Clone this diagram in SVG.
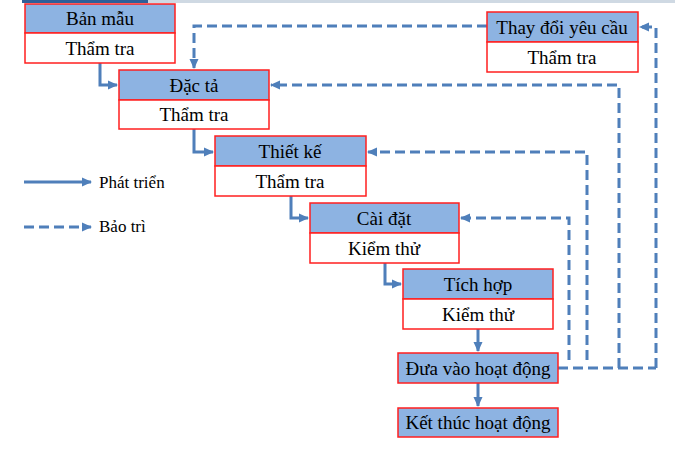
<svg xmlns="http://www.w3.org/2000/svg" width="675" height="461" viewBox="0 0 675 461">
<style>
.hd{fill:#8DB3E2;stroke:#FF1F1F;stroke-width:1.5}
.bd{fill:#FFFFFF;stroke:#FF1F1F;stroke-width:1.5}
.t{font-family:"Liberation Serif","Times New Roman",serif;font-size:19px;fill:#000;text-anchor:middle}
.lg{font-family:"Liberation Serif","Times New Roman",serif;font-size:17px;fill:#000}
.s{fill:none;stroke:#4F7FBA;stroke-width:3}
.d{fill:none;stroke:#4F7FBA;stroke-width:3;stroke-dasharray:10 5}
</style>
<defs>
<marker id="ah" markerUnits="userSpaceOnUse" markerWidth="10" markerHeight="10" viewBox="0 0 10 10" refX="9" refY="5" orient="auto">
<path d="M0,0.5 L10,5 L0,9.5 Z" fill="#4F7FBA"/>
</marker>
</defs>
<rect width="675" height="461" fill="#FFFFFF"/>
<rect x="22" y="0" width="126" height="3" fill="#2F5F99"/>
<rect x="148" y="0" width="527" height="3" fill="#9FB4C8" opacity="0.5"/>

<g id="connectors">
<path class="s" d="M100,63 V85 H117" marker-end="url(#ah)"/>
<path class="s" d="M194,129 V152 H213" marker-end="url(#ah)"/>
<path class="s" d="M291,196 V218 H308" marker-end="url(#ah)"/>
<path class="s" d="M385,263 V284 H401" marker-end="url(#ah)"/>
<path class="s" d="M478,329 V351" marker-end="url(#ah)"/>
<path class="s" d="M478,383 V406" marker-end="url(#ah)"/>
<path class="d" d="M558,368 H656"/>
<path class="d" d="M569,360 V218 H461" marker-end="url(#ah)"/>
<path class="d" d="M587,360 V152 H368" marker-end="url(#ah)"/>
<path class="d" d="M619,368 V85 H271" marker-end="url(#ah)"/>
<path class="d" d="M656,368 V27 H640" marker-end="url(#ah)"/>
<path class="d" d="M487,26 H194 V68" marker-end="url(#ah)"/>
</g>

<g id="ban-mau">
<rect class="hd" x="25" y="4" width="150" height="29"/>
<rect class="bd" x="25" y="33" width="150" height="30"/>
<text class="t" x="100" y="25">Bản mẫu</text>
<text class="t" x="100" y="55">Thẩm tra</text>
</g>
<g id="dac-ta">
<rect class="hd" x="119" y="70" width="150" height="30"/>
<rect class="bd" x="119" y="100" width="150" height="29"/>
<text class="t" x="194" y="92">Đặc tả</text>
<text class="t" x="194" y="121">Thẩm tra</text>
</g>
<g id="thiet-ke">
<rect class="hd" x="215" y="136" width="151" height="30"/>
<rect class="bd" x="215" y="166" width="151" height="30"/>
<text class="t" x="290" y="158">Thiết kế</text>
<text class="t" x="290" y="188">Thẩm tra</text>
</g>
<g id="cai-dat">
<rect class="hd" x="310" y="203" width="149" height="30"/>
<rect class="bd" x="310" y="233" width="149" height="30"/>
<text class="t" x="384" y="225">Cài đặt</text>
<text class="t" x="384" y="255">Kiểm thử</text>
</g>
<g id="tich-hop">
<rect class="hd" x="403" y="269" width="150" height="30"/>
<rect class="bd" x="403" y="299" width="150" height="30"/>
<text class="t" x="478" y="291">Tích hợp</text>
<text class="t" x="478" y="321">Kiểm thử</text>
</g>
<g id="dua-vao-hoat-dong">
<rect class="hd" x="398" y="353" width="160" height="30"/>
<text class="t" x="478" y="375">Đưa vào hoạt động</text>
</g>
<g id="ket-thuc-hoat-dong">
<rect class="hd" x="398" y="408" width="160" height="29"/>
<text class="t" x="478" y="429">Kết thúc hoạt động</text>
</g>
<g id="thay-doi-yeu-cau">
<rect class="hd" x="487" y="12" width="151" height="30"/>
<rect class="bd" x="487" y="42" width="151" height="30"/>
<text class="t" x="562" y="34">Thay đổi yêu cầu</text>
<text class="t" x="562" y="64">Thẩm tra</text>
</g>

<g id="legend">
<path class="s" d="M24,182 H91" marker-end="url(#ah)"/>
<text class="lg" x="99" y="188">Phát triển</text>
<path class="d" d="M24,227 H91" marker-end="url(#ah)" stroke-dasharray="11 9"/>
<text class="lg" x="99" y="232">Bảo trì</text>
</g>
</svg>
